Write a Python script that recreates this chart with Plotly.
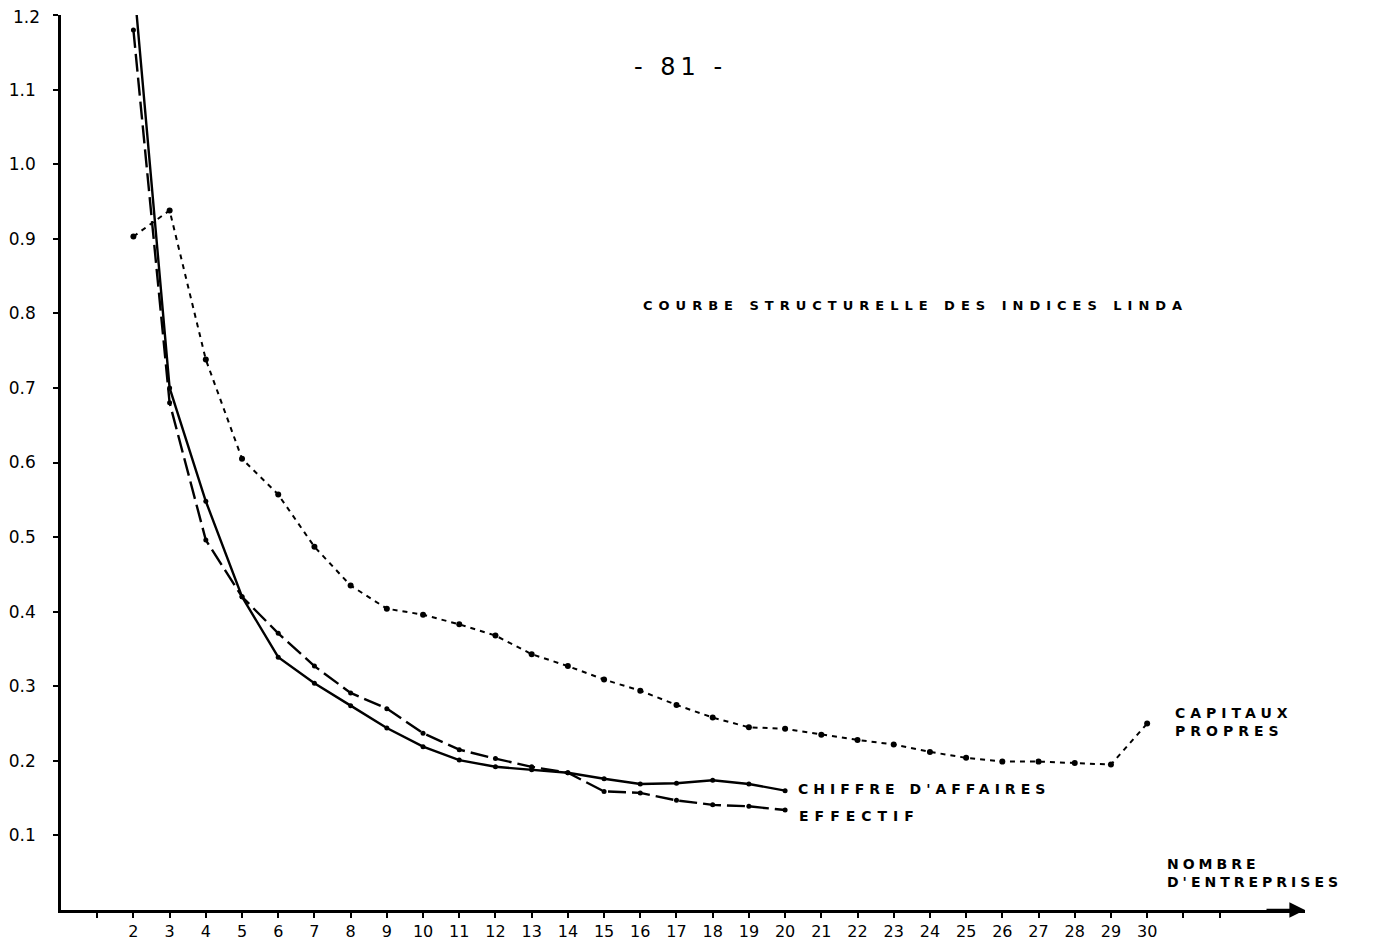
import plotly.graph_objects as go

# Data
x_ca = list(range(2, 21))
y_ca = [1.25, 0.70, 0.548, 0.42, 0.339, 0.304, 0.274, 0.244, 0.219, 0.201,
        0.192, 0.188, 0.184, 0.176, 0.169, 0.170, 0.174, 0.169, 0.160]

x_eff = list(range(2, 21))
y_eff = [1.18, 0.68, 0.496, 0.42, 0.371, 0.327, 0.291, 0.270, 0.237, 0.215,
         0.203, 0.192, 0.184, 0.159, 0.157, 0.147, 0.141, 0.139, 0.134]

x_cap = list(range(2, 31))
y_cap = [0.903, 0.938, 0.738, 0.605, 0.557, 0.487, 0.435, 0.404, 0.396, 0.383,
         0.368, 0.343, 0.327, 0.309, 0.294, 0.275, 0.258, 0.245, 0.243, 0.235,
         0.228, 0.222, 0.212, 0.204, 0.199, 0.199, 0.197, 0.195, 0.250]

x_tickvals = list(range(1, 33))
x_ticktext = ["" if (v < 2 or v > 30) else str(v) for v in x_tickvals]
y_tickvals = [0.1, 0.2, 0.3, 0.4, 0.5, 0.6, 0.7, 0.8, 0.9, 1.0, 1.1, 1.2]
y_ticktext = ["0.1", "0.2", "0.3", "0.4", "0.5", "0.6", "0.7", "0.8", "0.9", "1.0", "1.1", ""]
y_top_label = "1.2"

fig = go.Figure()

fig.add_trace(go.Scatter(
    x=x_cap, y=y_cap, mode="lines+markers", name="CAPITAUX PROPRES",
    line=dict(color="black", width=2, dash="5px,5px"),
    marker=dict(color="black", size=6),
))
fig.add_trace(go.Scatter(
    x=x_eff, y=y_eff, mode="lines+markers", name="EFFECTIF",
    line=dict(color="black", width=2.4, dash="18px,6px"),
    marker=dict(color="black", size=5),
))
fig.add_trace(go.Scatter(
    x=x_ca, y=y_ca, mode="lines+markers", name="CHIFFRE D'AFFAIRES",
    line=dict(color="black", width=2.4),
    marker=dict(color="black", size=5),
))

lab_font = dict(family="DejaVu Sans", size=14, color="black", weight="bold")


def spaced(t, ls=4):
    return '<span style="letter-spacing:%dpx">%s</span>' % (ls, t)


annotations = [
    dict(x=x_ca[-1], y=y_ca[-1], text=spaced("CHIFFRE D'AFFAIRES", 5), xanchor="left",
         yanchor="middle", xshift=11, yshift=2, showarrow=False, font=lab_font),
    dict(x=x_eff[-1], y=y_eff[-1], text=spaced("EFFECTIF", 6), xanchor="left",
         yanchor="middle", xshift=12, yshift=-6, showarrow=False, font=lab_font),
    dict(x=x_cap[-1], y=y_cap[-1],
         text=spaced("CAPITAUX", 5) + "<br>" + spaced("PROPRES", 5),
         xanchor="left", yanchor="middle", xshift=26, yshift=2, align="left",
         showarrow=False, font=lab_font),
    dict(x=30.5, y=0.05,
         text=spaced("NOMBRE", 4) + "<br>" + spaced("D'ENTREPRISES", 4),
         xanchor="left", yanchor="middle", align="left", showarrow=False,
         font=lab_font),
    dict(x=23.6, y=0.81, text=spaced("COURBE STRUCTURELLE DES INDICES LINDA", 6),
         xanchor="center", yanchor="middle", showarrow=False,
         font=dict(family="DejaVu Sans", size=13, color="black", weight="bold")),
    dict(x=17.1, y=1.13, text=spaced("- 81 -", 5), xanchor="center", yanchor="middle",
         showarrow=False, font=dict(family="DejaVu Sans", size=24, color="black")),
    # top y label (partly cut off at the page edge, as in the reference)
    dict(x=0, xref="paper", y=1.2, text=y_top_label, xanchor="right",
         yanchor="middle", xshift=-19, yshift=-2, showarrow=False,
         font=dict(family="DejaVu Sans", size=17, color="black")),
    # arrow head on x axis
    dict(x=1.0, y=0.0, xref="paper", yref="paper", ax=-40, ay=0, text="",
         showarrow=True, arrowhead=2, arrowsize=1.3, arrowwidth=2.4,
         arrowcolor="black"),
]

# the page body adds an 8px offset, so the figure is sized to fit the window
fig.update_layout(
    width=1365, height=934,
    margin=dict(l=53, r=68, t=7, b=32),
    paper_bgcolor="white", plot_bgcolor="white",
    showlegend=False,
    annotations=annotations,
    font=dict(family="DejaVu Sans", size=14, color="black"),
)
fig.update_xaxes(
    range=[0, 34.36], showgrid=False, zeroline=False, automargin=False,
    showline=True, linecolor="black", linewidth=2.6,
    ticks="outside", ticklen=5, tickwidth=2, tickcolor="black",
    tickvals=x_tickvals, ticktext=x_ticktext,
    tickfont=dict(family="DejaVu Sans", size=16, color="black"),
)
fig.update_yaxes(
    range=[0, 1.2], showgrid=False, zeroline=False, automargin=False,
    showline=True, linecolor="black", linewidth=2.6,
    ticks="outside", ticklen=5, tickwidth=2, tickcolor="black",
    tickvals=y_tickvals, ticktext=y_ticktext,
    ticklabelstandoff=14,
    tickfont=dict(family="DejaVu Sans", size=17, color="black"),
)

fig.write_html("out.html")
